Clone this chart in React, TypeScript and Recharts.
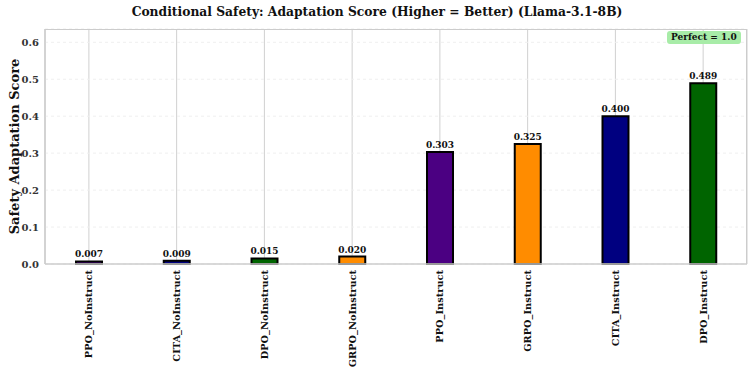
import React from "react";
import {
  BarChart,
  Bar,
  XAxis,
  YAxis,
  CartesianGrid,
  Cell,
  LabelList,
  Label,
} from "recharts";

const categories = [
  "PPO_NoInstruct",
  "CITA_NoInstruct",
  "DPO_NoInstruct",
  "GRPO_NoInstruct",
  "PPO_Instruct",
  "GRPO_Instruct",
  "CITA_Instruct",
  "DPO_Instruct",
];
const scores = [0.007, 0.009, 0.015, 0.02, 0.303, 0.325, 0.4, 0.489];
const yTicks = [0, 0.1, 0.2, 0.3, 0.4, 0.5, 0.6];

const METHOD_COLORS: Record<string, string> = {
  PPO: "#4b0082",
  CITA: "#000080",
  DPO: "#006400",
  GRPO: "#ff8c00",
};

const FONT = "'DejaVu Serif', serif";
const PLOT_BOTTOM = 264;

const data = categories.map((label, i) => ({ label, value: scores[i] }));

function XTick(props: any) {
  const { x, payload } = props;
  const y0 = PLOT_BOTTOM + 6;
  return (
    <text
      x={x}
      y={y0}
      transform={`rotate(-90, ${x}, ${y0})`}
      textAnchor="end"
      dominantBaseline="central"
      fontFamily={FONT}
      fontWeight="bold"
      fontSize={9.8}
      fill="#111"
    >
      {payload.value}
    </text>
  );
}

function YTick(props: any) {
  const { y, payload } = props;
  return (
    <text
      x={39}
      y={y}
      textAnchor="end"
      dominantBaseline="central"
      fontFamily={FONT}
      fontWeight="bold"
      fontSize={10}
      fill="#333"
    >
      {payload.value.toFixed(1)}
    </text>
  );
}

function ValueLabel(props: any) {
  const { x, y, width, value } = props;
  return (
    <text
      x={x + width / 2}
      y={y - 4}
      textAnchor="middle"
      fontFamily={FONT}
      fontWeight="bold"
      fontSize={9}
      fill="#111"
    >
      {Number(value).toFixed(3)}
    </text>
  );
}

export default function App() {
  return (
    <div
      style={{
        position: "fixed",
        left: 0,
        top: 0,
        width: 754,
        height: 373,
        background: "#fff",
      }}
    >
      <div
        style={{
          position: "absolute",
          top: 4,
          left: 0,
          width: 754,
          textAlign: "center",
          fontFamily: FONT,
          fontWeight: "bold",
          fontSize: 12.3,
          color: "#111",
        }}
      >
        Conditional Safety: Adaptation Score (Higher = Better) (Llama-3.1-8B)
      </div>
      <BarChart
        width={754}
        height={373}
        data={data}
        margin={{ top: 29, right: 7, bottom: 0, left: 0 }}
      >
        <CartesianGrid
          horizontal={false}
          stroke="#d0d0d0"
          strokeWidth={1}
        />
        <CartesianGrid
          vertical={false}
          stroke="#efefef"
          strokeDasharray="3 3"
        />
        <XAxis
          dataKey="label"
          height={109}
          interval={0}
          tick={<XTick />}
          tickLine={false}
          axisLine={{ stroke: "#cccccc", strokeWidth: 1.5 }}
        />
        <YAxis
          width={45}
          domain={[0, 0.636]}
          ticks={yTicks}
          tick={<YTick />}
          tickLine={false}
          axisLine={{ stroke: "#cccccc", strokeWidth: 1.5 }}
        >
          <Label
            value="Safety Adaptation Score"
            angle={-90}
            position="insideLeft"
            offset={14}
            style={{
              fontFamily: FONT,
              fontWeight: "bold",
              fontSize: 13,
              fill: "#111",
              textAnchor: "middle",
            }}
          />
        </YAxis>
        <Bar
          dataKey="value"
          barSize={26}
          stroke="#000"
          strokeWidth={2}
          isAnimationActive={false}
        >
          {data.map((d) => (
            <Cell key={d.label} fill={METHOD_COLORS[d.label.split("_")[0]]} />
          ))}
          <LabelList dataKey="value" content={<ValueLabel />} />
        </Bar>
      </BarChart>
      {/* plot frame: top and right spines */}
      <div
        style={{
          position: "absolute",
          left: 45,
          top: 29,
          width: 702,
          height: 235,
          borderTop: "1.5px solid #cccccc",
          borderRight: "1.5px solid #cccccc",
          boxSizing: "border-box",
          pointerEvents: "none",
        }}
      />
      <div
        style={{
          position: "absolute",
          left: 667,
          top: 31,
          padding: "0 4px",
          height: 13,
          lineHeight: "13px",
          background: "#a8eca8",
          borderRadius: 3,
          fontFamily: FONT,
          fontWeight: "bold",
          fontSize: 9,
          color: "#111",
        }}
      >
        Perfect = 1.0
      </div>
    </div>
  );
}
